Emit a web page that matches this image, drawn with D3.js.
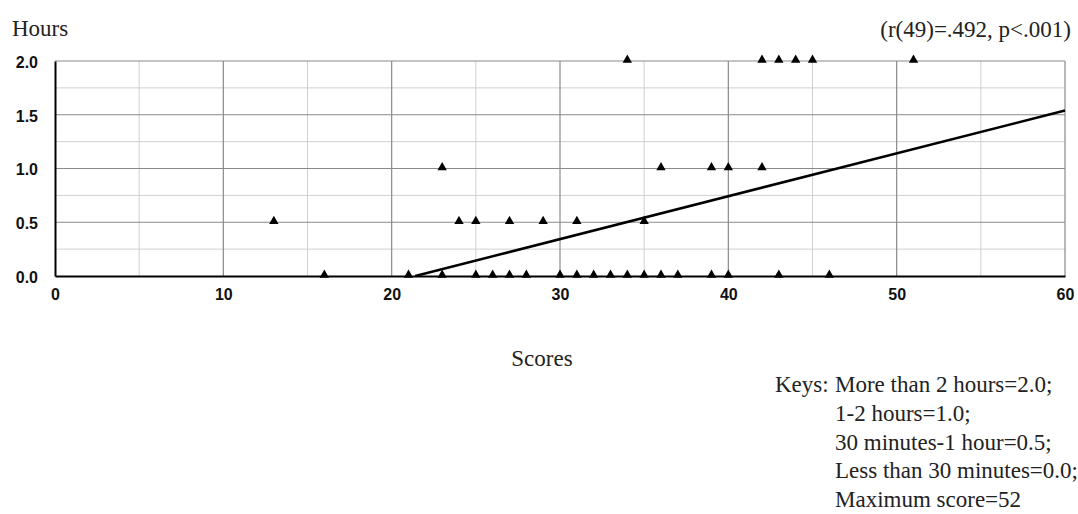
<!DOCTYPE html>
<html>
<head>
<meta charset="utf-8">
<script src="https://cdn.jsdelivr.net/npm/d3@7"></script>
<style>
  body { margin: 0; background: #fff; }
  svg { display: block; }
  .tick-label { font-family: "Liberation Sans", Arial, sans-serif; font-weight: bold; font-size: 16px; fill: #111; }
  .serif { font-family: "Liberation Serif", "Times New Roman", serif; font-size: 23px; fill: #222; }
</style>
</head>
<body>
<div id="chart"></div>
<script>
// scores (x) and hours (y), one entry per visible marker
const scores = [34, 42, 43, 44, 45, 51,
    23, 36, 39, 40, 42,
    13, 24, 25, 27, 29, 31, 35,
    16, 21, 23, 25, 26, 27, 28, 30, 31, 32, 33, 34, 35, 36, 37, 39, 40, 43, 46];
const hours = [2, 2, 2, 2, 2, 2,
    1, 1, 1, 1, 1,
    0.5, 0.5, 0.5, 0.5, 0.5, 0.5, 0.5,
    0, 0, 0, 0, 0, 0, 0, 0, 0, 0, 0, 0, 0, 0, 0, 0, 0, 0, 0];

// fitted line end points (estimated)
const fitX = [21.4, 60];
const fitY = [0, 1.54];

const xTicks = [0, 10, 20, 30, 40, 50, 60];
const xMinor = [5, 15, 25, 35, 45, 55];
const yTicks = [0, 0.5, 1, 1.5, 2];
const yMinor = [0.25, 0.75, 1.25, 1.75];

const keyLines = ['More than 2 hours=2.0;', '1-2 hours=1.0;', '30 minutes-1 hour=0.5;',
    'Less than 30 minutes=0.0;', 'Maximum score=52'];

const width = 1078, height = 514;
const margin = {left: 55, top: 61, right: 13, bottom: 238};
const plotW = width - margin.left - margin.right;
const plotH = height - margin.top - margin.bottom;

const svg = d3.select('#chart').append('svg')
    .attr('width', width)
    .attr('height', height);

const x = d3.scaleLinear().domain([0, 60]).range([0, plotW]);
const y = d3.scaleLinear().domain([0, 2]).range([plotH, 0]);

const g = svg.append('g').attr('transform', `translate(${margin.left},${margin.top})`);

// minor grid
g.append('g').selectAll('line')
    .data(xMinor)
    .join('line')
    .attr('x1', d => x(d)).attr('x2', d => x(d))
    .attr('y1', 0).attr('y2', plotH)
    .attr('stroke', '#d0d0d0').attr('stroke-width', 1);
g.append('g').selectAll('line')
    .data(yMinor)
    .join('line')
    .attr('x1', 0).attr('x2', plotW)
    .attr('y1', d => y(d)).attr('y2', d => y(d))
    .attr('stroke', '#d0d0d0').attr('stroke-width', 1);

// major grid
g.append('g').selectAll('line')
    .data(xTicks.slice(1))
    .join('line')
    .attr('x1', d => x(d)).attr('x2', d => x(d))
    .attr('y1', 0).attr('y2', plotH)
    .attr('stroke', '#8a8a8a').attr('stroke-width', 1.2);
g.append('g').selectAll('line')
    .data(yTicks.slice(1))
    .join('line')
    .attr('x1', 0).attr('x2', plotW)
    .attr('y1', d => y(d)).attr('y2', d => y(d))
    .attr('stroke', '#8a8a8a').attr('stroke-width', 1.2);

// regression line
g.append('line')
    .attr('x1', x(fitX[0])).attr('y1', y(fitY[0]))
    .attr('x2', x(fitX[1])).attr('y2', y(fitY[1]))
    .attr('stroke', '#000').attr('stroke-width', 2.5);

// axes
const xAxis = g.append('g')
    .attr('transform', `translate(0,${plotH})`)
    .call(d3.axisBottom(x).tickValues(xTicks).tickSize(0).tickPadding(13).tickFormat(d3.format('d')));
const yAxis = g.append('g')
    .call(d3.axisLeft(y).tickValues(yTicks).tickSize(0).tickPadding(17).tickFormat(d3.format('.1f')));

[xAxis, yAxis].forEach(a => {
    a.select('.domain').attr('stroke', '#000').attr('stroke-width', 2);
    a.selectAll('text').attr('class', 'tick-label').attr('fill', null);
});
yAxis.selectAll('text').attr('dy', '0.4em');

// markers
g.append('g').selectAll('path')
    .data(scores.map((s, i) => ({s: s, h: hours[i]})))
    .join('path')
    .attr('d', d3.symbol().type(d3.symbolTriangle).size(38))
    .attr('transform', d => `translate(${x(d.s)},${y(d.h) - 1})`)
    .attr('fill', '#000');

// titles
svg.append('text').attr('class', 'serif')
    .attr('x', 12).attr('y', 36)
    .text('Hours');
svg.append('text').attr('class', 'serif')
    .attr('x', 1071).attr('y', 37)
    .attr('text-anchor', 'end')
    .text('(r(49)=.492, p<.001)');
svg.append('text').attr('class', 'serif')
    .attr('x', 542).attr('y', 366)
    .attr('text-anchor', 'middle')
    .text('Scores');

// keys block
svg.append('text').attr('class', 'serif')
    .attr('x', 775).attr('y', 392)
    .text('Keys:');
svg.append('g').selectAll('text')
    .data(keyLines)
    .join('text')
    .attr('class', 'serif')
    .attr('x', 835)
    .attr('y', (d, i) => 392 + i * 28.8)
    .text(d => d);
</script>
</body>
</html>
